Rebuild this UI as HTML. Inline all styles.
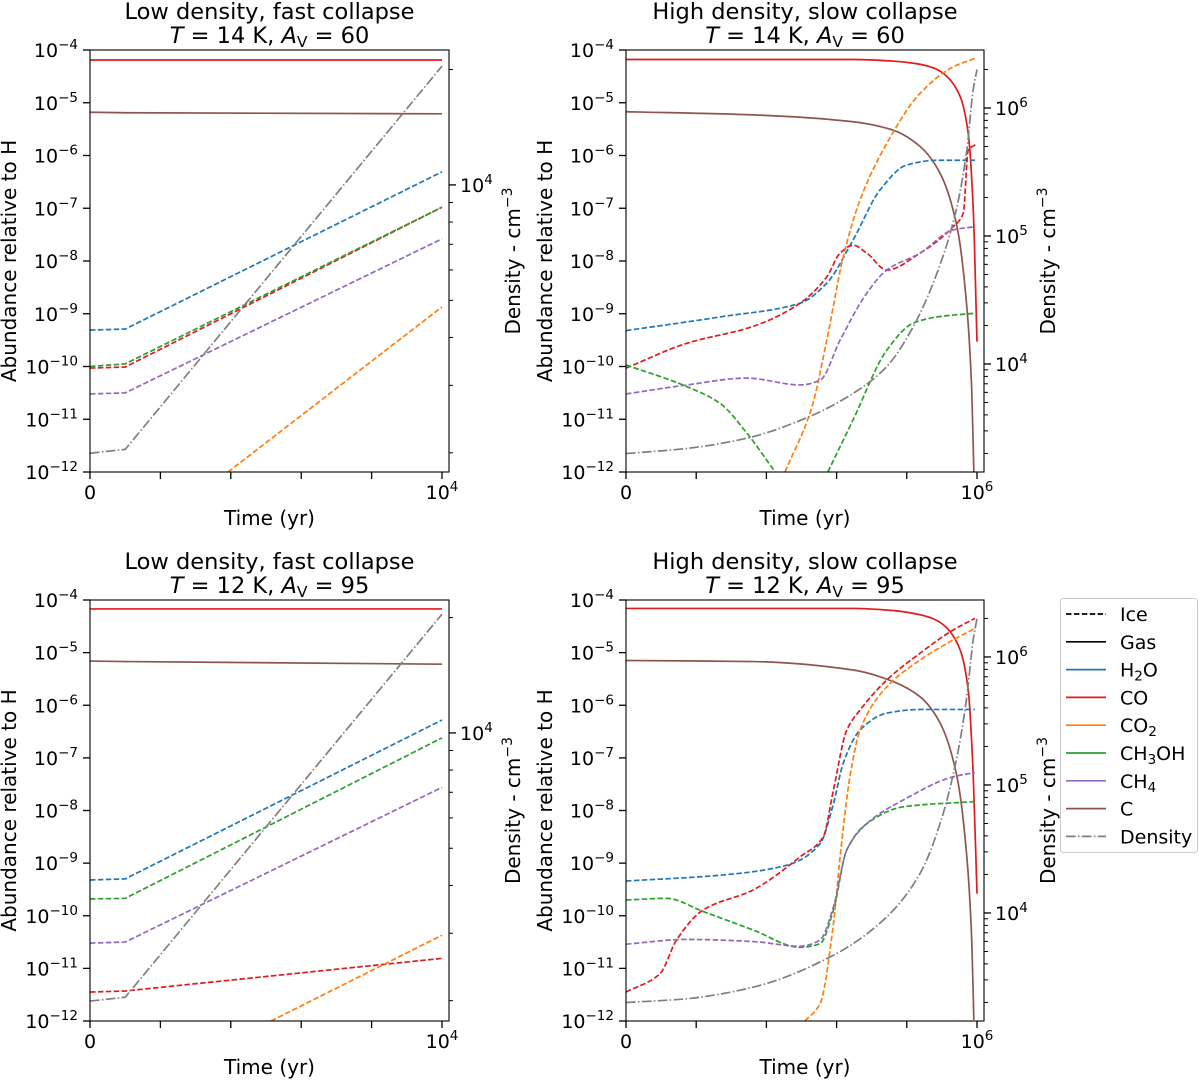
<!DOCTYPE html>
<html><head><meta charset="utf-8"><style>
html,body{margin:0;padding:0;background:#fff;}
svg text{font-family:"DejaVu Sans","Liberation Sans",sans-serif;fill:#000;}
</style></head><body>
<svg id="fig" width="1200" height="1079" viewBox="0 0 1200 1079" xmlns="http://www.w3.org/2000/svg"></svg>
<script>
// ---- Panel 1: low density, fast collapse, T=14K (time yr, log10 abundance)
const p1_t = [0, 1000, 10000];
const p1_co_gas = [-4.19, -4.19, -4.19];
const p1_c_gas = [-5.18, -5.19, -5.21];
const p1_h2o = [-9.31, -9.29, -6.31];
const p1_ch3oh = [-10.0, -9.95, -6.98];
const p1_co = [-10.03, -10.01, -6.98];
const p1_ch4 = [-10.52, -10.50, -7.58];
const p1_co2_t = [3920, 10000];
const p1_co2 = [-12.0, -8.87];
const p1_dens = [3.30, 3.31, 4.31];
// ---- Panel 3: low density, fast collapse, T=12K
const p3_t = [0, 1000, 10000];
const p3_co_gas = [-4.17, -4.17, -4.17];
const p3_c_gas = [-5.16, -5.17, -5.22];
const p3_h2o = [-9.32, -9.30, -6.28];
const p3_ch3oh = [-9.68, -9.67, -6.62];
const p3_ch4 = [-10.52, -10.50, -7.56];
const p3_co = [-11.45, -11.43, -10.81];
const p3_co2_t = [5142, 10000];
const p3_co2 = [-12.0, -10.37];
const p3_dens = [3.30, 3.31, 4.31];
// ---- Panel 2: high density, slow collapse, T=14K (time kyr)
const p2_co_gas_t = [0, 400, 650, 760, 838, 880, 914, 952, 975, 989, 1000];
const p2_co_gas = [-4.18, -4.18, -4.18, -4.21, -4.27, -4.35, -4.50, -4.88, -5.58, -6.97, -9.53];
const p2_c_gas_t = [0, 362, 647, 761, 838, 895, 943, 971, 985, 991];
const p2_c_gas = [-5.17, -5.23, -5.36, -5.52, -5.83, -6.34, -7.35, -8.87, -10.45, -12.0];
const p2_h2o_t = [0, 268, 496, 572, 647, 724, 800, 886, 994];
const p2_h2o = [-9.32, -9.06, -8.80, -8.42, -7.60, -6.65, -6.18, -6.09, -6.09];
const p2_co_t = [0, 173, 362, 496, 572, 610, 647, 686, 743, 838, 932, 961, 975, 1000];
const p2_co = [-10.03, -9.56, -9.24, -8.80, -8.30, -7.85, -7.70, -7.85, -8.17, -7.85, -7.35, -7.09, -5.9, -5.78];
const p2_co2_t = [453, 530, 572, 619, 667, 743, 838, 932, 994];
const p2_co2 = [-12.0, -10.76, -9.50, -7.92, -6.84, -5.77, -4.82, -4.32, -4.16];
const p2_ch3oh_a_t = [0, 173, 268, 344, 425];
const p2_ch3oh_a = [-9.97, -10.38, -10.70, -11.26, -12.0];
const p2_ch3oh_b_t = [575, 647, 743, 818, 886, 994];
const p2_ch3oh_b = [-12.0, -11.01, -9.69, -9.18, -9.06, -8.99];
const p2_ch4_t = [0, 173, 344, 496, 553, 610, 686, 743, 838, 932, 994];
const p2_ch4 = [-10.52, -10.35, -10.22, -10.35, -10.26, -9.50, -8.61, -8.17, -7.85, -7.41, -7.35];
const p2_dens_t = [0, 173, 344, 515, 647, 743, 818, 886, 943, 971, 989, 1000];
const p2_dens = [3.30, 3.34, 3.42, 3.58, 3.77, 3.98, 4.29, 4.71, 5.23, 5.67, 6.14, 6.30];
// ---- Panel 4: high density, slow collapse, T=12K
const p4_co_gas_t = [0, 400, 650, 760, 838, 880, 914, 952, 975, 989, 1000];
const p4_co_gas = [-4.16, -4.16, -4.16, -4.20, -4.28, -4.37, -4.53, -4.95, -5.71, -7.29, -9.58];
const p4_c_gas_t = [0, 362, 647, 761, 838, 895, 943, 971, 985, 991];
const p4_c_gas = [-5.15, -5.17, -5.33, -5.55, -5.84, -6.34, -7.36, -8.88, -10.46, -11.98];
const p4_h2o_t = [0, 268, 458, 553, 591, 619, 667, 743, 838, 994];
const p4_h2o = [-9.34, -9.23, -9.04, -8.63, -7.87, -7.10, -6.47, -6.15, -6.08, -6.08];
const p4_co_t = [0, 97, 144, 220, 362, 496, 562, 591, 629, 667, 743, 838, 932, 994];
const p4_co = [-11.45, -11.10, -10.46, -9.89, -9.51, -8.88, -8.50, -7.61, -6.47, -6.09, -5.52, -5.01, -4.57, -4.35];
const p4_co2_t = [510, 553, 591, 610, 638, 667, 743, 838, 932, 994];
const p4_co2 = [-12.0, -11.67, -10.15, -8.88, -7.36, -6.47, -5.65, -5.14, -4.76, -4.54];
const p4_ch3oh_t = [0, 116, 220, 362, 496, 553, 591, 629, 686, 790, 994];
const p4_ch3oh = [-9.70, -9.67, -9.92, -10.27, -10.60, -10.53, -9.89, -8.75, -8.25, -7.93, -7.83];
const p4_ch4_t = [0, 173, 362, 496, 553, 591, 629, 686, 790, 932, 994];
const p4_ch4 = [-10.54, -10.45, -10.49, -10.58, -10.46, -9.83, -8.75, -8.25, -7.80, -7.36, -7.28];
const p4_dens_t = [0, 173, 362, 591, 743, 838, 895, 943, 971, 989, 1000];
const p4_dens = [3.30, 3.33, 3.42, 3.67, 3.97, 4.31, 4.70, 5.22, 5.69, 6.13, 6.30];
// ---- legend
const legendLabels = ["Ice", "Gas", "H2O", "CO", "CO2", "CH3OH", "CH4", "C", "Density"];

const NS = "http://www.w3.org/2000/svg";
const svg = document.getElementById('fig');
const C = {h2o:'#1f77b4', co:'#e3191c', co2:'#ff7f0e', ch3oh:'#2ca02c', ch4:'#9467bd', c:'#8c564b', dens:'#7f7f7f'};
const DASH = '5.5,2.4', DASHDOT = '9.6,2.4,1.5,2.4';
function mk(tag, attrs, parent){const e=document.createElementNS(NS,tag);for(const k in attrs)e.setAttribute(k,attrs[k]);(parent||svg).appendChild(e);return e;}
function monoPath(pts, linear){
  const n=pts.length;
  let d='M'+pts[0][0].toFixed(2)+','+pts[0][1].toFixed(2);
  if(linear||n<3){for(let i=1;i<n;i++)d+=' L'+pts[i][0].toFixed(2)+','+pts[i][1].toFixed(2);return d;}
  const dx=[],sl=[];
  for(let i=0;i<n-1;i++){dx[i]=Math.max(1e-6,pts[i+1][0]-pts[i][0]);sl[i]=(pts[i+1][1]-pts[i][1])/dx[i];}
  const m=[sl[0]];
  for(let i=1;i<n-1;i++){
    if(sl[i-1]*sl[i]<=0)m[i]=0;
    else{const w1=2*dx[i]+dx[i-1],w2=dx[i]+2*dx[i-1];m[i]=(w1+w2)/(w1/sl[i-1]+w2/sl[i]);}
  }
  m[n-1]=sl[n-2];
  for(let i=0;i<n-1;i++){
    const h=dx[i]/3;
    d+=' C'+(pts[i][0]+h).toFixed(2)+','+(pts[i][1]+m[i]*h).toFixed(2)+' '+(pts[i+1][0]-h).toFixed(2)+','+(pts[i+1][1]-m[i+1]*h).toFixed(2)+' '+pts[i+1][0].toFixed(2)+','+pts[i+1][1].toFixed(2);
  }
  return d;
}
function sup(t, base, exp){
  t.textContent=base;
  const s=document.createElementNS(NS,'tspan');s.setAttribute('dy','-8');s.setAttribute('font-size','13.5');s.textContent=exp;t.appendChild(s);
}
let clipId=0;
function panel(cfg, series){
  const g=mk('g',{});
  
  
  const {x0,x1,yT,yB,tEnd,dT,dB}=cfg;
  const sx=t=>x0+t/tEnd*(cfg.xd-x0);
  const sy=L=>yT+(-4-L)/8*(yB-yT);
  const sd=D=>yT+(dT-D)/(dT-dB)*(yB-yT);
  const id='clip'+(clipId++);
  const cp=mk('clipPath',{id:id},g);mk('rect',{x:x0,y:yT,width:x1-x0,height:yB-yT},cp);
  const plot=mk('g',{'clip-path':'url(#'+id+')'},g);
  
  
  series.forEach(s=>{
    const pts=s.t.map((t,i)=>[sx(t*s.ts), s.axis==='d'?sd(s.v[i]):sy(s.v[i])]);
    const p=mk('path',{d:monoPath(pts,cfg.linear),fill:'none',stroke:s.color,'stroke-width':1.7,'stroke-dasharray':s.dash||'none'},plot);
    
    
  });
  const fr=mk('rect',{x:x0,y:yT,width:x1-x0,height:yB-yT,fill:'none',stroke:'#000','stroke-width':1.1},g);
  
  
  for(let k=-4;k>=-12;k--){
    const y=sy(k);
    mk('line',{x1:x0-7,x2:x0,y1:y,y2:y,stroke:'#000','stroke-width':1.3},g);
    const t=mk('text',{x:x0-12,y:y+7,'font-size':19,'text-anchor':'end'},g);
    
    
    sup(t,'10','\u2212'+(-k));
  }
  for(let i=0;i<=5;i++){
    const x=sx(tEnd*i/5);
    mk('line',{x1:x,x2:x,y1:yB,y2:yB+7,stroke:'#000','stroke-width':1.3},g);
  }
  let t0=mk('text',{x:x0,y:yB+27,'font-size':19,'text-anchor':'middle'},g);t0.textContent='0';
  
  
  let t1=mk('text',{x:sx(tEnd),y:yB+27,'font-size':19,'text-anchor':'middle'},g);sup(t1,'10',cfg.xexp);
  
  
  const xl=mk('text',{x:(x0+x1)/2,y:yB+53,'font-size':20,'text-anchor':'middle'},g);xl.textContent='Time (yr)';
  
  
  for(let k=Math.floor(dB);k<=Math.ceil(dT);k++){
    for(let m=1;m<=9;m++){
      const D=k+Math.log10(m);
      if(D<dB||D>dT)continue;
      const y=sd(D);
      mk('line',{x1:x1,x2:x1+(m===1?7:4),y1:y,y2:y,stroke:'#000','stroke-width':m===1?1.3:1},g);
      if(m===1){const t=mk('text',{x:x1+11,y:y+7,'font-size':19},g);sup(t,'10',String(k));
        
        }
    }
  }
  const cy=(yT+yB)/2;
  const yl=mk('text',{x:0,y:0,'font-size':20,'text-anchor':'middle',transform:'translate('+(x0-74)+','+cy+') rotate(-90)'},g);
  yl.textContent='Abundance relative to H';
  
  
  const dl=mk('text',{x:0,y:0,'font-size':20,'text-anchor':'middle',transform:'translate('+(x1+71)+','+cy+') rotate(-90)'},g);
  dl.textContent='Density - cm';
  const s=document.createElementNS(NS,'tspan');s.setAttribute('dy','-8');s.setAttribute('font-size','14');s.textContent='\u22123';dl.appendChild(s);
  
  
  const tt=mk('text',{x:(x0+x1)/2,y:yT-31,'font-size':22.5,'text-anchor':'middle'},g);tt.textContent=cfg.title;
  
  
  const t2=mk('text',{x:(x0+x1)/2,y:yT-7,'font-size':22.5,'text-anchor':'middle'},g);
  t2.innerHTML='<tspan font-style="italic">T</tspan> = '+cfg.T+' K, <tspan font-style="italic">A</tspan><tspan font-size="15.5" dy="4">V</tspan><tspan dy="-4"> = '+cfg.Av+'</tspan>';
  
  
}
function S(name,t,v,color,dash,axis,ts){return {name:name,t:t,v:v,color:color,dash:dash,axis:axis||'a',ts:ts||1};}

panel({name:'panel-low-density-14k',linear:true,x0:90,x1:449,xd:442,yT:50,yB:472,tEnd:10000,dT:4.352,dB:3.251,xexp:'4',title:'Low density, fast collapse',T:14,Av:60},[
  S('co-gas',p1_t,p1_co_gas,C.co),S('c-gas',p1_t,p1_c_gas,C.c),
  S('h2o-ice',p1_t,p1_h2o,C.h2o,DASH),S('co-ice',p1_t,p1_co,C.co,DASH),S('ch3oh-ice',p1_t,p1_ch3oh,C.ch3oh,DASH),
  S('ch4-ice',p1_t,p1_ch4,C.ch4,DASH),S('co2-ice',p1_co2_t,p1_co2,C.co2,DASH),S('density',p1_t,p1_dens,C.dens,DASHDOT,'d')]);
panel({name:'panel-high-density-14k',x0:626,x1:984,xd:977,yT:50,yB:472,tEnd:1e6,dT:6.453,dB:3.156,xexp:'6',title:'High density, slow collapse',T:14,Av:60},[
  S('co-gas',p2_co_gas_t,p2_co_gas,C.co,null,'a',1000),S('c-gas',p2_c_gas_t,p2_c_gas,C.c,null,'a',1000),
  S('h2o-ice',p2_h2o_t,p2_h2o,C.h2o,DASH,'a',1000),S('co-ice',p2_co_t,p2_co,C.co,DASH,'a',1000),
  S('co2-ice',p2_co2_t,p2_co2,C.co2,DASH,'a',1000),S('ch3oh-ice-early',p2_ch3oh_a_t,p2_ch3oh_a,C.ch3oh,DASH,'a',1000),
  S('ch3oh-ice-late',p2_ch3oh_b_t,p2_ch3oh_b,C.ch3oh,DASH,'a',1000),S('ch4-ice',p2_ch4_t,p2_ch4,C.ch4,DASH,'a',1000),
  S('density',p2_dens_t,p2_dens,C.dens,DASHDOT,'d',1000)]);
panel({name:'panel-low-density-12k',linear:true,x0:90,x1:449,xd:442,yT:600,yB:1021,tEnd:10000,dT:4.347,dB:3.248,xexp:'4',title:'Low density, fast collapse',T:12,Av:95},[
  S('co-gas',p3_t,p3_co_gas,C.co),S('c-gas',p3_t,p3_c_gas,C.c),
  S('h2o-ice',p3_t,p3_h2o,C.h2o,DASH),S('ch3oh-ice',p3_t,p3_ch3oh,C.ch3oh,DASH),S('ch4-ice',p3_t,p3_ch4,C.ch4,DASH),
  S('co-ice',p3_t,p3_co,C.co,DASH),S('co2-ice',p3_co2_t,p3_co2,C.co2,DASH),S('density',p3_t,p3_dens,C.dens,DASHDOT,'d')]);
panel({name:'panel-high-density-12k',x0:626,x1:984,xd:977,yT:600,yB:1021,tEnd:1e6,dT:6.445,dB:3.156,xexp:'6',title:'High density, slow collapse',T:12,Av:95},[
  S('co-gas',p4_co_gas_t,p4_co_gas,C.co,null,'a',1000),S('c-gas',p4_c_gas_t,p4_c_gas,C.c,null,'a',1000),
  S('h2o-ice',p4_h2o_t,p4_h2o,C.h2o,DASH,'a',1000),S('co-ice',p4_co_t,p4_co,C.co,DASH,'a',1000),
  S('co2-ice',p4_co2_t,p4_co2,C.co2,DASH,'a',1000),S('ch3oh-ice',p4_ch3oh_t,p4_ch3oh,C.ch3oh,DASH,'a',1000),
  S('ch4-ice',p4_ch4_t,p4_ch4,C.ch4,DASH,'a',1000),S('density',p4_dens_t,p4_dens,C.dens,DASHDOT,'d',1000)]);

const lg=mk('g',{});


mk('rect',{x:1060.5,y:598.5,width:137,height:254,rx:3,fill:'#fff',stroke:'#ccc'},lg);
const legColors=['#000','#000',C.h2o,C.co,C.co2,C.ch3oh,C.ch4,C.c,C.dens];
const legDash=[DASH,'none','none','none','none','none','none','none',DASHDOT];
const subs={"H2O":['H','2','O'],"CO2":['CO','2',''],"CH3OH":['CH','3','OH'],"CH4":['CH','4','']};
legendLabels.forEach((lab,i)=>{
  const y=614+i*27.8;
  const e=mk('g',{},lg);
  
  
  mk('line',{x1:1066,x2:1106,y1:y,y2:y,stroke:legColors[i],'stroke-width':1.7,'stroke-dasharray':legDash[i]},e);
  const t=mk('text',{x:1120,y:y+7,'font-size':19},e);
  if(subs[lab]){const p=subs[lab];t.innerHTML=p[0]+'<tspan font-size="13.5" dy="4">'+p[1]+'</tspan><tspan dy="-4">'+p[2]+'</tspan>';}
  else t.textContent=lab;
});
</script>
</body></html>
